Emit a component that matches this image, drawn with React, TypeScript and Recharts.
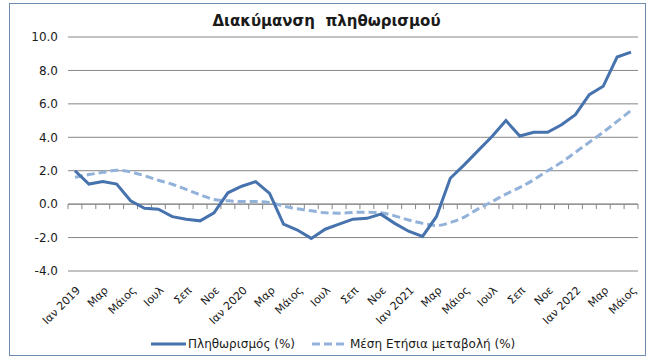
import React from 'react';
import { LineChart, Line, XAxis, YAxis, CartesianGrid, ReferenceLine, Legend } from 'recharts';

const categories: string[] = [
  'Ιαν 2019', 'Φεβ', 'Μαρ', 'Απρ', 'Μάιος', 'Ιουν', 'Ιουλ', 'Αυγ', 'Σεπ', 'Οκτ', 'Νοε', 'Δεκ',
  'Ιαν 2020', 'Φεβ', 'Μαρ', 'Απρ', 'Μάιος', 'Ιουν', 'Ιουλ', 'Αυγ', 'Σεπ', 'Οκτ', 'Νοε', 'Δεκ',
  'Ιαν 2021', 'Φεβ', 'Μαρ', 'Απρ', 'Μάιος', 'Ιουν', 'Ιουλ', 'Αυγ', 'Σεπ', 'Οκτ', 'Νοε', 'Δεκ',
  'Ιαν 2022', 'Φεβ', 'Μαρ', 'Απρ', 'Μάιος',
];

const inflation: number[] = [
  2.0, 1.2, 1.35, 1.2, 0.2, -0.25, -0.3, -0.75, -0.9, -1.0, -0.52, 0.68,
  1.07, 1.35, 0.64, -1.2, -1.55, -2.05, -1.5, -1.2, -0.9, -0.85, -0.6, -1.15,
  -1.62, -1.93, -0.75, 1.55, 2.35, 3.2, 4.05, 5.0, 4.08, 4.3, 4.3, 4.75,
  5.35, 6.55, 7.05, 8.8, 9.1,
];

const annualAvg: number[] = [
  1.6, 1.77, 1.9, 2.03, 1.93, 1.7, 1.43, 1.19, 0.88, 0.56, 0.28, 0.2,
  0.16, 0.16, 0.1, -0.12, -0.28, -0.4, -0.52, -0.54, -0.5, -0.48, -0.52, -0.7,
  -0.95, -1.15, -1.28, -1.1, -0.78, -0.28, 0.15, 0.6, 1.0, 1.45, 2.0, 2.5,
  3.1, 3.7, 4.3, 4.95, 5.6,
];

const yTicks: number[] = [-4, -2, 0, 2, 4, 6, 8, 10];

const seriesNames = ['Πληθωρισμός (%)', 'Μέση Ετήσια μεταβολή (%)'];
const titleText = 'Διακύμανση  πληθωρισμού';

const data = categories.map((c, i) => ({
  month: c,
  idx: i,
  inflation: inflation[i],
  annualAvg: annualAvg[i],
}));

const FONT = '"DejaVu Sans", Verdana, sans-serif';
const SOLID = '#4672AE';
const DASHED = '#93B2DA';
const GRID = '#868686';

const ZeroAxis = (props: any) => {
  const { x1, x2, y1 } = props;
  const n = categories.length;
  const step = (x2 - x1) / n;
  const ticks = [];
  for (let k = 0; k <= n; k++) {
    const x = x1 + k * step;
    ticks.push(<line key={k} x1={x} x2={x} y1={y1} y2={y1 + 5} stroke={GRID} strokeWidth={1} />);
  }
  return (
    <g>
      <line x1={x1} x2={x2} y1={y1} y2={y1} stroke={GRID} strokeWidth={1} />
      {ticks}
    </g>
  );
};

const XTick = (props: any) => {
  const { x, y, payload } = props;
  const tx = x + 6;
  const ty = y + 14;
  return (
    <text
      x={0}
      y={0}
      transform={`matrix(0.70711 -0.70711 0.70711 0.70711 ${tx} ${ty})`}
      textAnchor="end"
      fontFamily={FONT}
      fontSize={11}
      fill="#1a1a1a"
    >
      {categories[payload.value]}
    </text>
  );
};

const LegendContent = () => (
  <div style={{ display: 'flex', alignItems: 'center', height: 24, paddingLeft: 151, fontFamily: FONT, fontSize: 12, color: '#1a1a1a' }}>
    <svg width={36} height={10}>
      <line x1={0} x2={35} y1={5} y2={5} stroke={SOLID} strokeWidth={3} />
    </svg>
    <span style={{ marginLeft: 1 }}>{seriesNames[0]}</span>
    <svg width={36} height={10} style={{ marginLeft: 17 }}>
      <line x1={0} x2={34} y1={5} y2={5} stroke={DASHED} strokeWidth={3} strokeDasharray="8 4" />
    </svg>
    <span style={{ marginLeft: 2 }}>{seriesNames[1]}</span>
  </div>
);

export default function App() {
  return (
    <div style={{ position: 'absolute', left: 0, top: 0, width: 653, height: 364, background: '#fff' }}>
      <div
        style={{
          position: 'absolute', left: 9, top: 3, width: 637, height: 353,
          border: '1px solid #6E8CB0', boxSizing: 'border-box',
        }}
      />
      <div
        style={{
          position: 'absolute', left: 0, top: 12, width: 653, textAlign: 'center',
          fontFamily: FONT, fontSize: 15, fontWeight: 'bold', color: '#1a1a1a', whiteSpace: 'pre',
        }}
      >
        {titleText}
      </div>
      <div style={{ position: 'absolute', left: 0, top: 0 }}>
        <LineChart
          width={653}
          height={364}
          data={data}
          margin={{ top: 37, right: 15, left: 0, bottom: 8 }}
        >
          <CartesianGrid vertical={false} stroke={GRID} strokeDasharray="" />
          <XAxis
            dataKey="idx"
            type="category"
            interval={1}
            height={61}
            padding={{ left: 7, right: 7 }}
            axisLine={false}
            tickLine={false}
            tickSize={0}
            tickMargin={6}
            tick={<XTick />}
          />
          <YAxis
            domain={[-4, 10]}
            ticks={yTicks}
            width={68}
            axisLine={false}
            tickLine={false}
            tickSize={0}
            tickMargin={10}
            tickFormatter={(v: number) => v.toFixed(1)}
            tick={{ fontFamily: FONT, fontSize: 12, fill: '#1a1a1a' }}
            allowDataOverflow
          />
          <ReferenceLine y={0} shape={(p: any) => <ZeroAxis {...p} />} />
          <Line
            type="monotone"
            dataKey="annualAvg"
            name={seriesNames[1]}
            stroke={DASHED}
            strokeWidth={3}
            strokeDasharray="8 4"
            dot={false}
            activeDot={false}
            isAnimationActive={false}
          />
          <Line
            type="linear"
            dataKey="inflation"
            name={seriesNames[0]}
            stroke={SOLID}
            strokeWidth={3}
            dot={false}
            activeDot={false}
            isAnimationActive={false}
          />
          <Legend verticalAlign="bottom" height={24} content={<LegendContent />} wrapperStyle={{ left: 0, width: 653 }} />
        </LineChart>
      </div>
    </div>
  );
}
